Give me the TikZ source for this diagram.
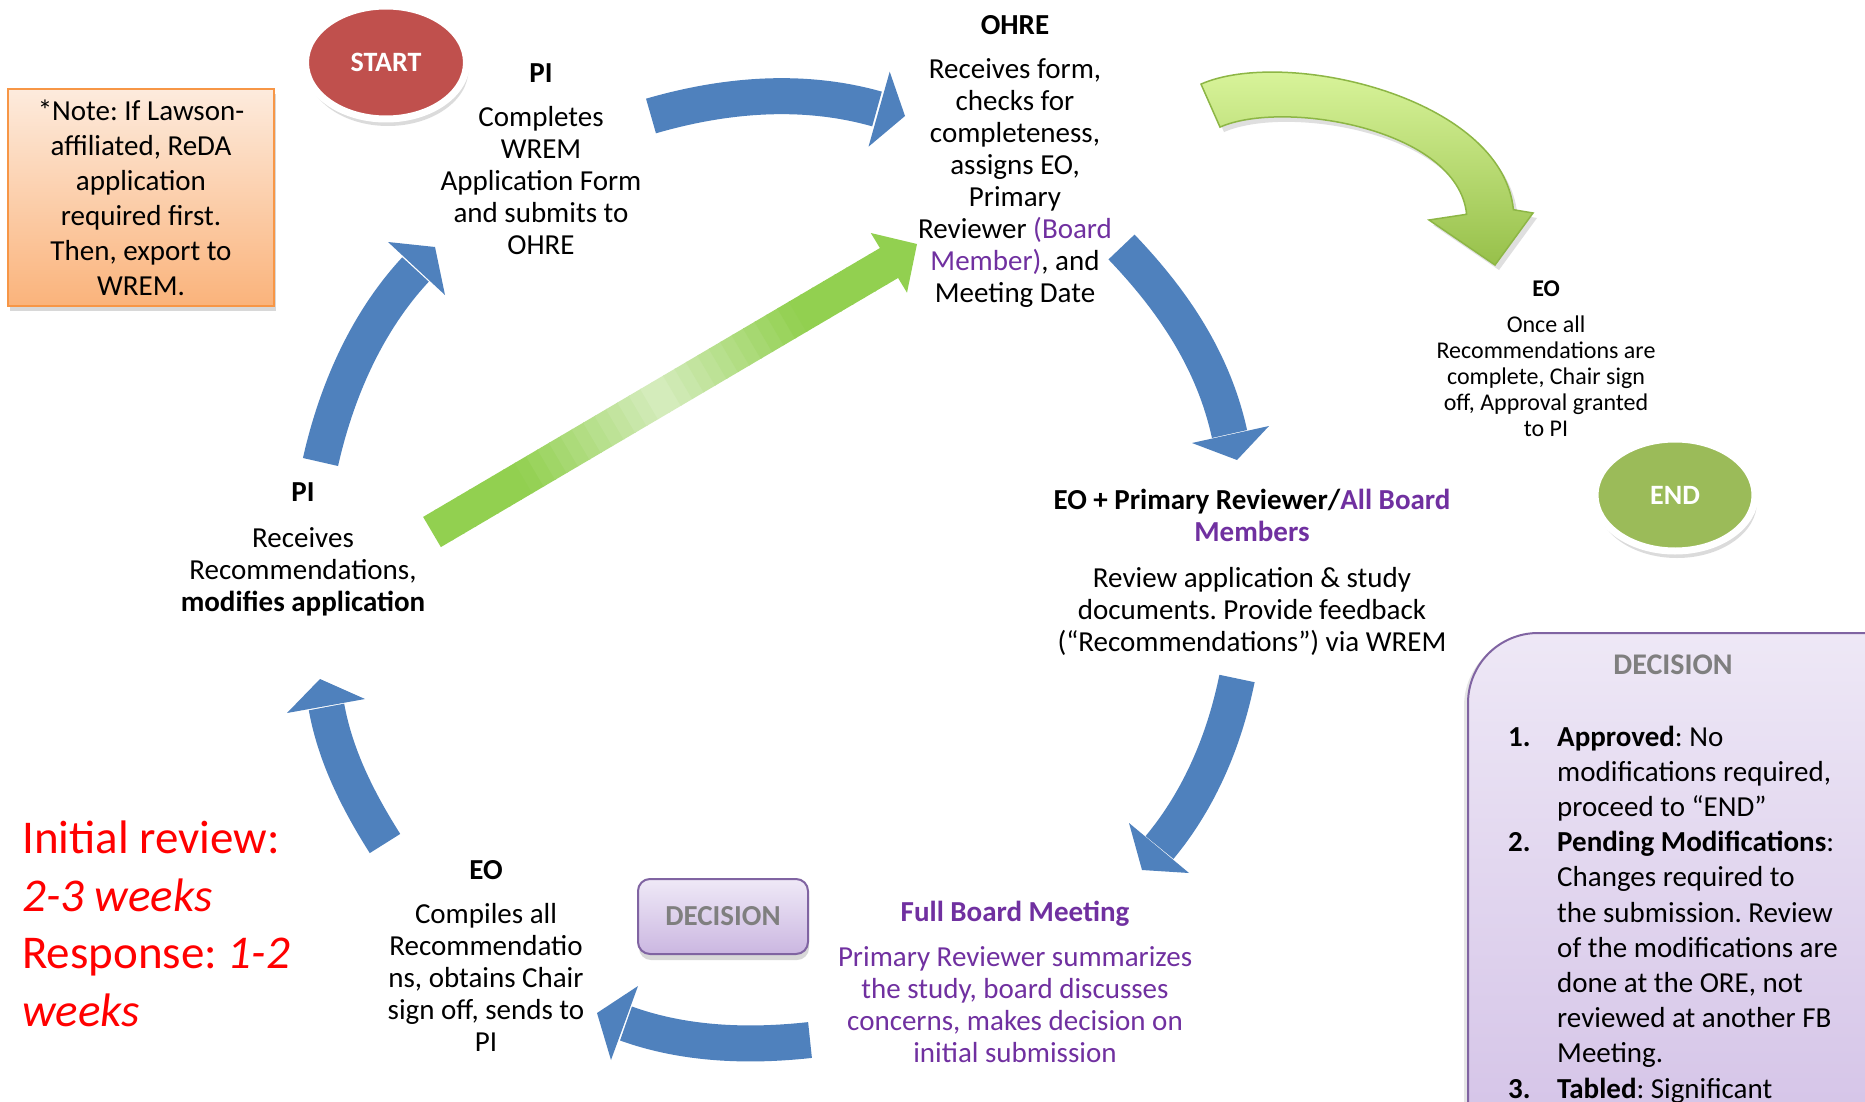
\documentclass[tikz,border=0pt]{standalone}
\usepackage{fontspec}
\setmainfont{Carlito}
\frenchspacing
\usetikzlibrary{shapes.geometric,shadows,calc}
\definecolor{arrowblue}{HTML}{4F81BD}
\definecolor{startred}{HTML}{C0504D}
\definecolor{endgreen}{HTML}{9BBB59}
\definecolor{brightgreen}{HTML}{92D050}
\definecolor{palegreen}{HTML}{E8F4DC}
\definecolor{purp}{HTML}{7030A0}
\definecolor{decgray}{HTML}{7F7F7F}
\definecolor{decborder}{HTML}{8064A2}
\definecolor{dectop}{HTML}{EFE9F7}
\definecolor{decbottom}{HTML}{CBB7E1}
\definecolor{paneltop}{HTML}{EEE8F6}
\definecolor{panelbottom}{HTML}{D2C0E6}
\definecolor{noteborder}{HTML}{F79646}
\definecolor{notetop}{HTML}{FDEBDD}
\definecolor{notebottom}{HTML}{FAB37B}
\definecolor{cgtop}{HTML}{E0FAA4}
\definecolor{cgbottom}{HTML}{97C04A}
\definecolor{cgline}{HTML}{8DB645}
\definecolor{redtxt}{HTML}{FF0000}
\begin{document}
\begin{tikzpicture}[x=1pt,y=-1pt,
  txt/.style={align=center, inner sep=0pt, font=\fontsize{29}{32}\selectfont},
  smalltxt/.style={align=center, inner sep=0pt, font=\fontsize{24}{26}\selectfont},
  bluebody/.style={draw=arrowblue, line width=36pt},
  bluehead/.style={fill=arrowblue},
  softshadow/.style={drop shadow={opacity=0.28, shadow xshift=2pt, shadow yshift=-7pt}},
  termnode/.style={ellipse, draw=white, line width=7pt, inner sep=0pt,
     text=white, font=\bfseries\fontsize{28}{30}\selectfont, softshadow}
]
\useasboundingbox (0,0) rectangle (1865,1102);
\clip (0,0) rectangle (1865,1102);
\fill[white] (0,0) rectangle (1865,1102);

% ---------- decision panel (right, partly off-page)
\node[draw=decborder, line width=2pt, rounded corners=70pt, top color=paneltop, bottom color=panelbottom,
      minimum width=467pt, minimum height=547pt, inner sep=0pt,
      drop shadow={opacity=0.2, shadow xshift=-4pt, shadow yshift=-3pt}] (panel) at (1701.5,906.5) {};
\node[text=decgray, font=\bfseries\fontsize{30}{32}\selectfont, inner sep=0pt] (panelhead) at (1673,664.5) {DECISION};
\node[anchor=west, align=left, inner sep=0pt, font=\fontsize{29}{35.2}\selectfont] (items) at (1508,914.5) {%
\makebox[49pt][l]{\bfseries 1.}\textbf{Approved}: No\\
\hspace*{49pt}modifications required,\\
\hspace*{49pt}proceed to “END”\\
\makebox[49pt][l]{\bfseries 2.}\textbf{Pending Modifications}:\\
\hspace*{49pt}Changes required to\\
\hspace*{49pt}the submission. Review\\
\hspace*{49pt}of the modifications are\\
\hspace*{49pt}done at the ORE, not\\
\hspace*{49pt}reviewed at another FB\\
\hspace*{49pt}Meeting.\\
\makebox[49pt][l]{\bfseries 3.}\textbf{Tabled}: Significant};

% ---------- blue curved arrows
\coordinate (a1) at (651,116);   \coordinate (a2) at (877,109);
\draw[bluebody] (a1) .. controls (725,94.5) and (803,88) .. (a2);
\fill[bluehead] (889.7,71.7) -- (905,116) -- (868.5,146.7) -- cycle;

\coordinate (b1) at (1121.5,247); \coordinate (b2) at (1229.5,434);
\draw[bluebody] (b1) .. controls (1178,306) and (1214.5,365.6) .. (b2);
\fill[bluehead] (1192,443) -- (1237,460) -- (1269,426) -- cycle;

\coordinate (c1) at (1237,678.5); \coordinate (c2) at (1159.5,847.5);
\draw[bluebody] (c1) .. controls (1224.4,740.2) and (1199.8,799) .. (c2);
\fill[bluehead] (1129,823) -- (1142,870) -- (1189,873) -- cycle;

\coordinate (d1) at (810,1040); \coordinate (d2) at (626,1023.5);
\draw[bluebody] (d1) .. controls (748.4,1046.8) and (684.3,1044.6) .. (d2);
\fill[bluehead] (638,986) -- (597,1013) -- (611,1060) -- cycle;

\coordinate (e1) at (385,843.5); \coordinate (e2) at (326.5,707);
\draw[bluebody] (e1) .. controls (358.25,801.25) and (335.35,756.2) .. (e2);
\fill[bluehead] (287,713) -- (320,679) -- (365,699) -- cycle;

\coordinate (f1) at (320.5,462); \coordinate (f2) at (415.5,269.5);
\draw[bluebody] (f1) .. controls (336.3,391.7) and (366.5,322.3) .. (f2);
\fill[bluehead] (388,242) -- (435,247) -- (445,295) -- cycle;

% ---------- green straight arrow (gradient along its length)
\coordinate (gs) at (432,532); \coordinate (ge) at (889,263);
\foreach \i in {0,...,39}{
  \pgfmathsetmacro{\ta}{\i/40}
  \pgfmathsetmacro{\tb}{(\i+1.1)/40}
  \pgfmathsetmacro{\pp}{max(0,1-abs((\i+0.5)/40-0.5)/0.3)*80}
  \draw[line width=35pt, draw=palegreen!\pp!brightgreen] ($(gs)!\ta!(ge)$) -- ($(gs)!\tb!(ge)$);
}
\fill[brightgreen] (870.8,233) -- (917,244) -- (907,292.7) -- cycle;

% ---------- green curved arrow (to END)
\coordinate (h1) at (1210.5,105.6); \coordinate (h2) at (1495,265);
\path[draw=cgline, line width=1.5pt, top color=cgtop, bottom color=cgbottom,
      drop shadow={opacity=0.25, shadow xshift=4pt, shadow yshift=-5pt}]
  (1201,84.1) .. controls (1284.3,47.3) and (1502.1,96.6) .. (1513.4,209.7)
  -- (1533,213) -- (h2) -- (1429,220) -- (1466.6,214.3)
  .. controls (1458,128.3) and (1283.1,99.2) .. (1220,127.1) -- cycle;

% ---------- start / end
\node[termnode, fill=startred, minimum width=161pt, minimum height=113pt] (start) at (386,62.5) {START};
\node[termnode, fill=endgreen, minimum width=160pt, minimum height=112pt] (end) at (1675,495) {END};

% ---------- note box
\node[draw=noteborder, line width=2pt, top color=notetop, bottom color=notebottom,
      minimum width=266pt, minimum height=217pt, inner sep=0pt, align=center,
      font=\fontsize{29}{35}\selectfont,
      drop shadow={opacity=0.3, shadow xshift=2pt, shadow yshift=-5pt}] (note) at (141,197.5)
  {*Note: If Lawson-\\ affiliated, ReDA\\ application\\ required first.\\ Then, export to\\ WREM.};

% ---------- small decision box
\node[rounded corners=12pt, draw=decborder, line width=2pt, top color=dectop, bottom color=decbottom,
      minimum width=170pt, minimum height=75pt, inner sep=0pt, text=decgray,
      font=\bfseries\fontsize{29}{32}\selectfont,
      drop shadow={opacity=0.3, shadow xshift=1pt, shadow yshift=-6pt}] (decsmall) at (723,916.5) {DECISION};

% ---------- text blocks
\node[txt] (pitop) at (541,159.5) {\textbf{PI}\\[12pt] Completes\\ WREM\\ Application Form\\ and submits to\\ OHRE};
\node[txt] (ohre) at (1015,161) {\textbf{OHRE}\\[12pt] Receives form,\\ checks for\\ completeness,\\ assigns EO,\\ Primary\\ Reviewer \textcolor{purp}{(Board}\\ \textcolor{purp}{Member)}, and\\ Meeting Date};
\node[smalltxt] (eoright) at (1546,358.5) {\textbf{EO}\\[10pt] Once all\\ Recommendations are\\ complete, Chair sign\\ off, Approval granted\\ to PI};
\node[txt] (review) at (1252,572) {\textbf{EO + Primary Reviewer/\textcolor{purp}{All Board}}\\ \textbf{\textcolor{purp}{Members}}\\[14pt] Review application \& study\\ documents. Provide feedback\\ (“Recommendations”) via WREM};
\node[txt, text=purp] (fbm) at (1015,981.5) {\textbf{Full Board Meeting}\\[13pt] Primary Reviewer summarizes\\ the study, board discusses\\ concerns, makes decision on\\ initial submission};
\node[txt] (eobottom) at (486,955.5) {\textbf{EO}\\[12pt] Compiles all\\ Recommendatio\\ ns, obtains Chair\\ sign off, sends to\\ PI};
\node[txt] (pileft) at (303,549.5) {\textbf{PI}\\[14pt] Receives\\ Recommendations,\\ \textbf{modifies application}};

% ---------- timing text
\node[anchor=west, align=left, inner sep=0pt, text=redtxt, font=\fontsize{47}{57.5}\selectfont] (timing) at (22,924)
  {Initial review:\\ \textit{2-3 weeks}\\ Response: \textit{1-2}\\ \textit{weeks}};
\end{tikzpicture}
\end{document}
